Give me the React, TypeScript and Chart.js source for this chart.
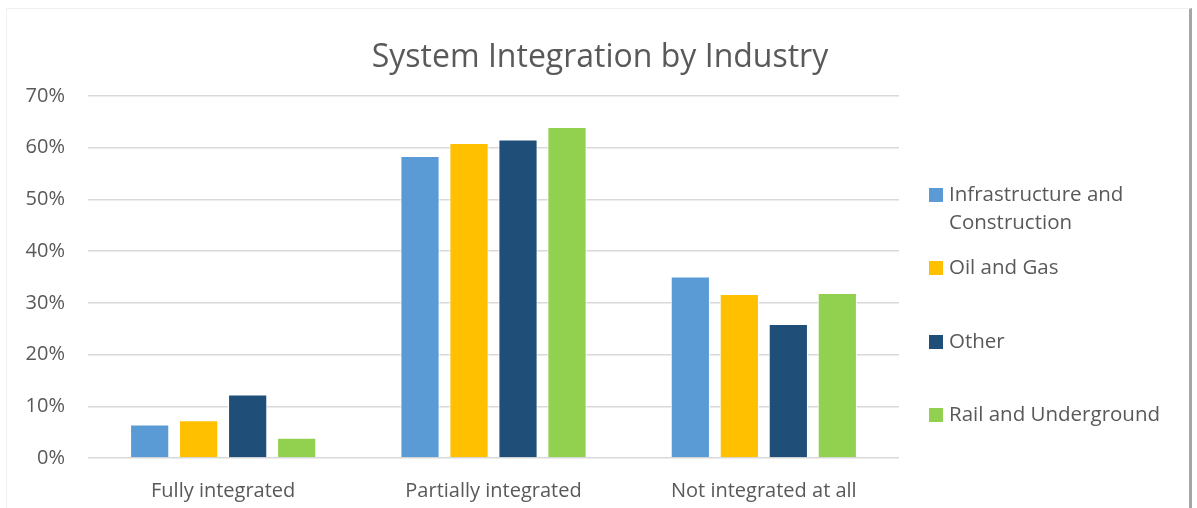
import React, { useEffect, useRef } from "react";
import { Chart, registerables } from "chart.js";

Chart.register(...registerables);

const categories = ["Fully integrated", "Partially integrated", "Not integrated at all"];
const seriesNames = ["Infrastructure and Construction", "Oil and Gas", "Other", "Rail and Underground"];
const legendLines = [["Infrastructure and", "Construction"], ["Oil and Gas"], ["Other"], ["Rail and Underground"]];
const infraValues = [6.5, 58.4, 35.1];
const oilValues = [7.3, 60.9, 31.7];
const otherValues = [12.3, 61.6, 25.9];
const railValues = [3.9, 64.0, 31.9];
const yTicks = [0, 10, 20, 30, 40, 50, 60, 70];
const colors = ["#5B9BD5", "#FFC000", "#1F4E79", "#92D050"];
const titleText = "System Integration by Industry";

const FONT = "'Open Sans', 'Noto Sans', sans-serif";
const TEXT = "#595959";

const overlayPlugin = {
  id: "overlay",
  afterDraw(chart: any) {
    const ctx = chart.ctx;
    ctx.save();
    // title
    ctx.fillStyle = TEXT;
    ctx.font = `32px ${FONT}`;
    ctx.textAlign = "center";
    ctx.textBaseline = "alphabetic";
    ctx.fillText(titleText, 600, 67);
    // legend
    const ys = [195, 268, 342, 415];
    ctx.textAlign = "left";
    ctx.textBaseline = "middle";
    ctx.font = `20.5px ${FONT}`;
    chart.data.datasets.forEach((ds: any, i: number) => {
      const y = ys[i];
      ctx.fillStyle = ds.backgroundColor;
      ctx.fillRect(929, y - 7, 14, 14);
      ctx.fillStyle = TEXT;
      legendLines[i].forEach((line, j) => {
        ctx.fillText(line, 949, y + j * 28);
      });
    });
    ctx.restore();
  },
};

export default function App() {
  const ref = useRef<HTMLCanvasElement | null>(null);

  useEffect(() => {
    if (!ref.current) return;
    const dataSets = [infraValues, oilValues, otherValues, railValues];
    const chart = new Chart(ref.current, {
      type: "bar",
      data: {
        labels: categories,
        datasets: dataSets.map((vals, i) => ({
          label: seriesNames[i],
          data: vals,
          backgroundColor: colors[i],
          borderColor: "#ffffff",
          borderWidth: 1,
          categoryPercentage: 0.725,
          barPercentage: 0.8,
        })),
      },
      options: {
        animation: false,
        responsive: false,
        maintainAspectRatio: false,
        layout: { padding: { left: 25, right: 298, top: 96, bottom: 0 } },
        plugins: {
          legend: { display: false },
          title: { display: false },
          tooltip: { enabled: false },
        },
        scales: {
          x: {
            grid: { display: false, drawTicks: false },
            border: { display: false },
            ticks: { color: TEXT, font: { family: FONT, size: 20 }, padding: 21, maxRotation: 0 },
            afterFit(scale: any) {
              scale.height = 50;
            },
          },
          y: {
            min: 0,
            max: 70,
            afterBuildTicks(scale: any) {
              scale.ticks = yTicks.map((v) => ({ value: v }));
            },
            grid: { color: "#d9d9d9", lineWidth: 1.5, drawTicks: false },
            border: { display: false },
            ticks: {
              color: TEXT,
              font: { family: FONT, size: 20 },
              padding: 23,
              callback: (v: any) => `${v}%`,
            },
            afterFit(scale: any) {
              scale.width = 63;
            },
          },
        },
      },
      plugins: [overlayPlugin],
    });
    return () => chart.destroy();
  }, []);

  return (
    <div style={{ position: "absolute", left: 0, top: 0, width: 1197, height: 508, background: "#fff", overflow: "hidden" }}>
      <div
        style={{
          position: "absolute",
          left: 6,
          top: 8,
          width: 1186,
          height: 520,
          borderTop: "1px solid #efefef",
          borderLeft: "1px solid #efefef",
          borderRight: "3px solid #a6a6a6",
          boxSizing: "border-box",
        }}
      />
      <canvas ref={ref} width={1197} height={508} style={{ position: "absolute", left: 0, top: 0 }} />
    </div>
  );
}
